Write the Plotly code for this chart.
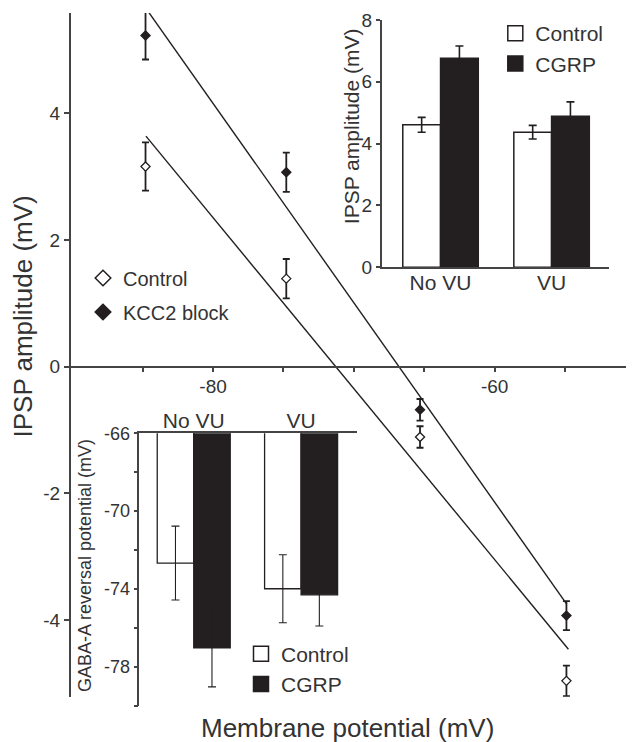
import plotly.graph_objects as go

# ---------------- data ----------------
# main panel: IPSP amplitude vs membrane potential
membrane_control = [-84.8, -74.8, -65.3, -54.9]
ipsp_control = [3.16, 1.39, -1.11, -4.96]
ipsp_control_err = [0.38, 0.31, 0.17, 0.24]
membrane_kcc2 = [-84.8, -74.8, -65.3, -54.9]
ipsp_kcc2 = [5.23, 3.07, -0.68, -3.93]
ipsp_kcc2_err = [0.38, 0.31, 0.17, 0.23]

# linear fits (end points)
fit_control_x = [-84.77, -54.76]
fit_control_y = [3.64, -4.46]
fit_kcc2_x = [-84.62, -54.88]
fit_kcc2_y = [5.61, -3.75]

main_xtick_vals = [-85, -80, -75, -70, -65, -60, -55]
main_xtick_text = ["", "-80", "", "", "", "-60", ""]
main_ytick_vals = [-4, -2, 0, 2, 4]
main_ytick_text = ["-4", "-2", "0", "2", "4"]

# inset 1: IPSP amplitude bars
groups = ["No VU", "VU"]
ipsp_bar_control = [4.61, 4.37]
ipsp_bar_control_err = [0.24, 0.22]
ipsp_bar_cgrp = [6.76, 4.89]
ipsp_bar_cgrp_err = [0.40, 0.46]

# inset 2: GABA-A reversal potential bars
egaba_control = [-72.67, -73.99]
egaba_control_err = [1.9, 1.75]
egaba_cgrp = [-77.03, -74.3]
egaba_cgrp_err = [2.0, 1.6]
egaba_tick_vals = [-80, -78, -76, -74, -72, -70, -68, -66]
egaba_tick_text = ["", "-78", "", "-74", "", "-70", "", "-66"]

# ---------------- styling ----------------
W, H = 634, 742
OFF = 8  # page body margin offset
FONT = "Liberation Sans, Arial, Helvetica, sans-serif"
TXT = "#333333"
AX = "#444444"
BLK = "#231f20"


def fx(px):
    return (px - OFF) / W


def fy(py):
    return 1 - (py - OFF) / H


fig = go.Figure()

# main panel
fig.add_trace(go.Scatter(x=fit_control_x, y=fit_control_y, mode="lines",
                         line=dict(color=BLK, width=1.4), showlegend=False, hoverinfo="skip"))
fig.add_trace(go.Scatter(x=fit_kcc2_x, y=fit_kcc2_y, mode="lines",
                         line=dict(color=BLK, width=1.4), showlegend=False, hoverinfo="skip"))
fig.add_trace(go.Scatter(x=membrane_control, y=ipsp_control, mode="markers",
                         marker=dict(symbol="diamond", size=7, color="white",
                                     line=dict(color=BLK, width=1.3)),
                         error_y=dict(type="data", array=ipsp_control_err, color=BLK,
                                      thickness=1.8, width=3.5),
                         showlegend=False))
fig.add_trace(go.Scatter(x=membrane_kcc2, y=ipsp_kcc2, mode="markers",
                         marker=dict(symbol="diamond", size=7, color=BLK,
                                     line=dict(color=BLK, width=1.3)),
                         error_y=dict(type="data", array=ipsp_kcc2_err, color=BLK,
                                      thickness=1.8, width=3.5),
                         showlegend=False))
# main legend entries
fig.add_trace(go.Scatter(x=[None], y=[None], mode="markers", name="Control",
                         marker=dict(symbol="diamond", size=12, color="white",
                                     line=dict(color=BLK, width=1.5)),
                         legend="legend", legendgroup="a"))
fig.add_trace(go.Scatter(x=[None], y=[None], mode="markers", name="KCC2 block",
                         marker=dict(symbol="diamond", size=12, color=BLK,
                                     line=dict(color=BLK, width=1.5)),
                         legend="legend", legendgroup="b"))

# inset 1
fig.add_trace(go.Bar(x=groups, y=ipsp_bar_control, xaxis="x2", yaxis="y2",
                     marker=dict(color="white", line=dict(color=BLK, width=1.5)),
                     error_y=dict(type="data", array=ipsp_bar_control_err, color=BLK,
                                  thickness=1.6, width=4),
                     showlegend=False))
fig.add_trace(go.Bar(x=groups, y=ipsp_bar_cgrp, xaxis="x2", yaxis="y2",
                     marker=dict(color=BLK, line=dict(color=BLK, width=1.5)),
                     error_y=dict(type="data", array=ipsp_bar_cgrp_err, color=BLK,
                                  thickness=1.6, width=4),
                     showlegend=False))
fig.add_trace(go.Scatter(x=[None], y=[None], mode="markers", name="Control",
                         xaxis="x2", yaxis="y2",
                         marker=dict(symbol="square", size=15, color="white",
                                     line=dict(color=BLK, width=1.5)),
                         legend="legend2", legendgroup="c"))
fig.add_trace(go.Scatter(x=[None], y=[None], mode="markers", name="CGRP",
                         xaxis="x2", yaxis="y2",
                         marker=dict(symbol="square", size=15, color=BLK,
                                     line=dict(color=BLK, width=1.5)),
                         legend="legend2", legendgroup="d"))

# inset 2 (bars hang from the top of the axis)
fig.add_trace(go.Bar(x=groups, y=egaba_control, xaxis="x3", yaxis="y3",
                     marker=dict(color="white", line=dict(color=BLK, width=1.3)),
                     error_y=dict(type="data", array=egaba_control_err, color=BLK,
                                  thickness=1.1, width=4),
                     showlegend=False))
fig.add_trace(go.Bar(x=groups, y=egaba_cgrp, xaxis="x3", yaxis="y3",
                     marker=dict(color=BLK, line=dict(color=BLK, width=1.3)),
                     error_y=dict(type="data", array=egaba_cgrp_err, color=BLK,
                                  thickness=1.1, width=4),
                     showlegend=False))
fig.add_trace(go.Scatter(x=[None], y=[None], mode="markers", name="Control",
                         xaxis="x3", yaxis="y3",
                         marker=dict(symbol="square", size=15, color="white",
                                     line=dict(color=BLK, width=1.5)),
                         legend="legend3", legendgroup="e"))
fig.add_trace(go.Scatter(x=[None], y=[None], mode="markers", name="CGRP",
                         xaxis="x3", yaxis="y3",
                         marker=dict(symbol="square", size=15, color=BLK,
                                     line=dict(color=BLK, width=1.5)),
                         legend="legend3", legendgroup="f"))

# ---------------- layout ----------------
main_ydom = [fy(696.7), fy(13)]
main_yrange = [-5.21, 5.584]
x_axis_pos = main_ydom[0] + (0 - main_yrange[0]) / (main_yrange[1] - main_yrange[0]) * (main_ydom[1] - main_ydom[0])

axis_common = dict(showline=True, linecolor=AX, linewidth=1.5, showgrid=False, zeroline=False,
                   automargin=False, tickcolor=AX, tickwidth=1.5,
                   tickfont=dict(size=19, color=TXT, family=FONT))
cat_font = dict(size=21, color=TXT, family=FONT)


def title_ann(text, px, py, size, angle=0):
    return dict(text=text, x=fx(px), y=fy(py), xref="paper", yref="paper",
                xanchor="center", yanchor="middle", textangle=angle, showarrow=False,
                font=dict(size=size, color=TXT, family=FONT))


fig.update_layout(
    template="none",
    width=W, height=H,
    margin=dict(l=0, r=0, t=0, b=0, pad=0, autoexpand=False),
    paper_bgcolor="white", plot_bgcolor="rgba(0,0,0,0)",
    font=dict(family=FONT, color=TXT),
    barmode="group", bargap=0.32, bargroupgap=0,
    xaxis=dict(domain=[fx(70.7), fx(634)], range=[-90.115, -50.10], anchor="free", position=x_axis_pos,
               tickvals=main_xtick_vals, ticktext=main_xtick_text, ticks="outside", ticklen=5,
               ticklabelstandoff=-2, **axis_common),
    yaxis=dict(domain=main_ydom, range=main_yrange, anchor="x",
               tickvals=main_ytick_vals, ticktext=main_ytick_text, ticks="outside", ticklen=5,
               **axis_common),
    xaxis2=dict(domain=[fx(381.7), fx(609.3)], range=[-0.53, 1.52], anchor="y2", ticks="",
                ticklabelstandoff=-4, **{**axis_common, "tickfont": cat_font}),
    yaxis2=dict(domain=[fy(267.3), fy(20)], range=[0, 8], anchor="x2", dtick=2,
                ticks="outside", ticklen=4, **axis_common),
    xaxis3=dict(domain=[fx(139.3), fx(356.7)], range=[-0.507, 1.518], anchor="y3", side="top",
                ticks="", ticklabelstandoff=-5, **{**axis_common, "tickfont": cat_font}),
    yaxis3=dict(domain=[fy(705.7), fy(433.3)], range=[-80, -66], anchor="x3",
                tickvals=egaba_tick_vals, ticktext=egaba_tick_text, ticks="outside", ticklen=4,
                **{**axis_common, "tickfont": dict(size=18, color=TXT, family=FONT)}),
    legend=dict(x=fx(83), y=fy(258.5), xanchor="left", yanchor="top", bgcolor="rgba(0,0,0,0)",
                font=dict(size=20, color=TXT, family=FONT), itemsizing="trace",
                traceorder="grouped", tracegroupgap=5),
    legend2=dict(x=fx(495.3), y=fy(13), xanchor="left", yanchor="top", bgcolor="rgba(0,0,0,0)",
                 font=dict(size=21, color=TXT, family=FONT), itemsizing="trace",
                 traceorder="grouped", tracegroupgap=0),
    legend3=dict(x=fx(241), y=fy(633.5), xanchor="left", yanchor="top", bgcolor="rgba(0,0,0,0)",
                 font=dict(size=21, color=TXT, family=FONT), itemsizing="trace",
                 traceorder="grouped", tracegroupgap=0),
    annotations=[
        title_ann("IPSP amplitude (mV)", 23, 316.5, 26, -90),
        title_ann("Membrane potential (mV)", 347, 728, 26),
        title_ann("IPSP amplitude (mV)", 351.7, 126.5, 21, -90),
        title_ann("GABA-A reversal potential (mV)", 85, 566, 18, -90),
    ],
)

fig.write_html("out.html")
